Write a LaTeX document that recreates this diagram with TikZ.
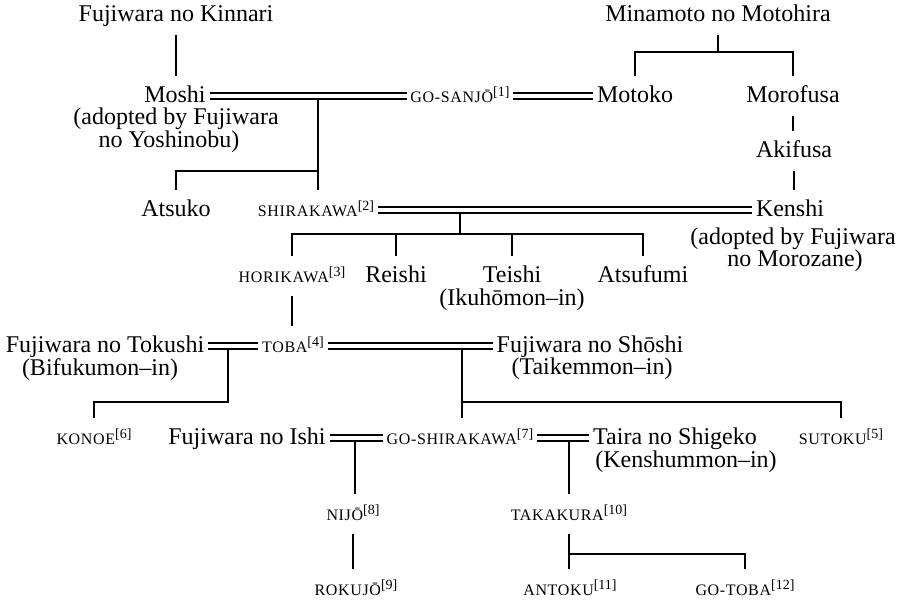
\documentclass[tikz,border=0pt]{standalone}
\usepackage{fontspec}
\setmainfont{Liberation Serif}
\usetikzlibrary{calc}

\newcommand{\emperor}[2]{{\fontsize{8}{9}\selectfont\addfontfeatures{LetterSpace=4}#1}\raisebox{3pt}{\fontsize{7}{8}\selectfont[#2]}}

\begin{document}
\begin{tikzpicture}[
    x=0.5pt, y=-0.5pt,
    line width=0.85pt,
    person/.style={anchor=base, font=\fontsize{12}{14}\selectfont,
      text height=7pt, text depth=0pt, inner xsep=1.5pt, inner ysep=6pt},
    marriage/.style={double, double distance=2.4pt, line width=0.85pt},
  ]
  \useasboundingbox (0,0) rectangle (900,603);
  % top generation
  \node[person] (kinnari) at (176,22) {Fujiwara no Kinnari};
  \node[person] (motohira) at (718,22) {Minamoto no Motohira};
  % go-sanjo generation
  \node[person] (moshi) at (175,103) {Moshi};
  \node[person] (moshiA) at (176,125) {(adopted by Fujiwara};
  \node[person] (moshiB) at (169,148) {no Yoshinobu)};
  \node[person] (gosanjo) at (460,103) {\emperor{GO-SANJŌ}{1}};
  \node[person] (motoko) at (635,103) {Motoko};
  \node[person] (morofusa) at (793,103) {Morofusa};
  \node[person] (akifusa) at (794,158) {Akifusa};
  % shirakawa generation
  \node[person] (atsuko) at (176,217) {Atsuko};
  \node[person] (shirakawa) at (316,217) {\emperor{SHIRAKAWA}{2}};
  \node[person] (kenshi) at (790,217) {Kenshi};
  \node[person] (kenshiA) at (793,245) {(adopted by Fujiwara};
  \node[person] (kenshiB) at (795,267) {no Morozane)};
  % horikawa generation
  \node[person] (horikawa) at (292,283) {\emperor{HORIKAWA}{3}};
  \node[person] (reishi) at (396,283) {Reishi};
  \node[person] (teishi) at (512,283) {Teishi};
  \node[person] (teishiA) at (512,306) {(Ikuhōmon–in)};
  \node[person] (atsufumi) at (643,283) {Atsufumi};
  % toba generation
  \node[person] (tokushi) at (105,353) {Fujiwara no Tokushi};
  \node[person] (tokushiA) at (100,376) {(Bifukumon–in)};
  \node[person] (toba) at (293,353) {\emperor{TOBA}{4}};
  \node[person] (shoshi) at (590,353) {Fujiwara no Shōshi};
  \node[person] (shoshiA) at (592,375) {(Taikemmon–in)};
  % go-shirakawa generation
  \node[person] (konoe) at (94,445) {\emperor{KONOE}{6}};
  \node[person] (ishi) at (247,445) {Fujiwara no Ishi};
  \node[person] (goshirakawa) at (460,445) {\emperor{GO-SHIRAKAWA}{7}};
  \node[person] (taira) at (675,445) {Taira no Shigeko};
  \node[person] (tairaA) at (686,468) {(Kenshummon–in)};
  \node[person] (sutoku) at (841,445) {\emperor{SUTOKU}{5}};
  % later emperors
  \node[person] (nijo) at (353,521) {\emperor{NIJŌ}{8}};
  \node[person] (takakura) at (569,521) {\emperor{TAKAKURA}{10}};
  \node[person] (rokujo) at (356,596) {\emperor{ROKUJŌ}{9}};
  \node[person] (antoku) at (570,596) {\emperor{ANTOKU}{11}};
  \node[person] (gotoba) at (745,596) {\emperor{GO-TOBA}{12}};

  % junctions
  \coordinate (jMoto) at (718,52);
  \coordinate (jSanjo) at (318,96);
  \coordinate (jAtsuko) at (318,171);
  \coordinate (jShira) at (460,210);
  \coordinate (jShiraK) at (460,234);
  \coordinate (jToku) at (228,346);
  \coordinate (jTokuK) at (228,402);
  \coordinate (jToba) at (462,346);
  \coordinate (jTobaK) at (462,402);
  \coordinate (jIshi) at (355,438);
  \coordinate (jTaira) at (569,438);
  \coordinate (jTaka) at (569,554);

  % descent lines
  \draw (kinnari.south) -- (kinnari.south |- moshi.north);
  \draw (motohira.south) -- (jMoto);
  \draw (motoko.north) |- (jMoto) -| (morofusa.north);
  \draw (morofusa.south) -- (morofusa.south |- akifusa.north);
  \draw (akifusa.south) -- (akifusa.south |- kenshi.north);
  \draw (jSanjo) -- (jSanjo |- shirakawa.north);
  \draw (jAtsuko) -| (atsuko.north);
  \draw (jShira) -- (jShiraK);
  \draw (horikawa.north) |- (jShiraK) -| (atsufumi.north);
  \draw (reishi.north) -- (reishi.north |- jShiraK);
  \draw (teishi.north) -- (teishi.north |- jShiraK);
  \draw (horikawa.south) -- (horikawa.south |- toba.north);
  \draw (jToku) -- (jTokuK) -| (konoe.north);
  \draw (jToba) -- (jTobaK) -| (sutoku.north);
  \draw (jTobaK) -- (jTobaK |- goshirakawa.north);
  \draw (jIshi) -- (jIshi |- nijo.north);
  \draw (nijo.south) -- (nijo.south |- rokujo.north);
  \draw (jTaira) -- (jTaira |- takakura.north);
  \draw (takakura.south) -- (takakura.south |- antoku.north);
  \draw (jTaka) -| (gotoba.north);

  % marriages
  \draw[marriage] (moshi.east) -- (gosanjo.west);
  \draw[marriage] (gosanjo.east) -- (motoko.west);
  \draw[marriage] (shirakawa.east) -- (kenshi.west);
  \draw[marriage] (tokushi.east) -- (toba.west);
  \draw[marriage] (toba.east) -- (shoshi.west);
  \draw[marriage] (ishi.east) -- (goshirakawa.west);
  \draw[marriage] (goshirakawa.east) -- (taira.west);
\end{tikzpicture}
\end{document}
